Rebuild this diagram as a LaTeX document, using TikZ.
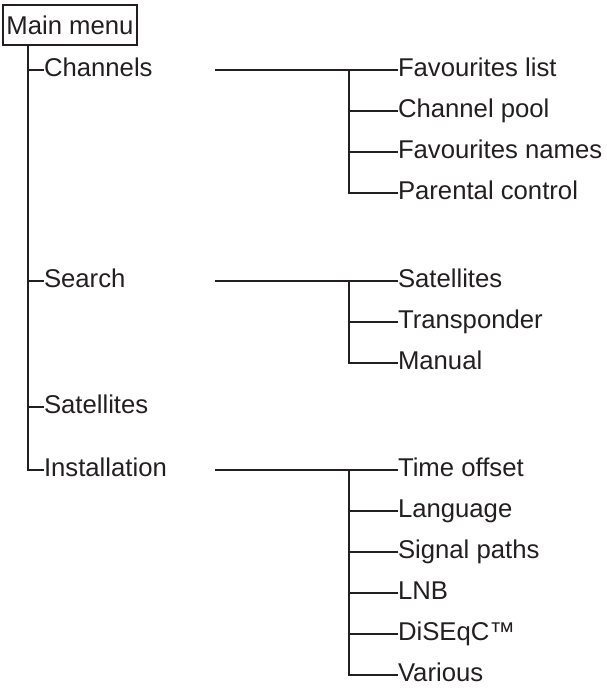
\documentclass[tikz,border=0pt]{standalone}
\usepackage{fontspec}
\setmainfont{Liberation Sans}
\usepackage{tikz}
\usetikzlibrary{positioning}
\definecolor{Ink}{HTML}{231F20}

\begin{document}
\begin{tikzpicture}[x=1pt, y=-1pt, node distance=18pt, line width=1.9pt, color=Ink,
  font=\fontsize{25.7pt}{30pt}\selectfont,
  menu/.style={draw, line width=1.5pt, minimum width=134pt, minimum height=40pt, inner sep=0pt},
  entry/.style={anchor=west, inner sep=0pt, outer sep=0pt, text height=17.5pt, text depth=5.5pt},
  leaf/.style={entry, anchor=north west}]
  \useasboundingbox (0,0) rectangle (607,688);

  \node[menu] (main) at (70,25) {Main menu};
  \node[entry] (chan) at (44,70) {Channels};
  \node[entry] (search) at (44,281) {Search};
  \node[entry] (sat) at (44,407) {Satellites};
  \node[entry] (inst) at (44,470) {Installation};

  \node[entry] (fav) at (398,70) {Favourites list};
  \node[below=of fav.south west, leaf] (pool) {Channel pool};
  \node[below=of pool.south west, leaf] (names) {Favourites names};
  \node[below=of names.south west, leaf] (parent) {Parental control};

  \node[entry] (satlist) at (398,281) {Satellites};
  \node[below=of satlist.south west, leaf] (trans) {Transponder};
  \node[below=of trans.south west, leaf] (manual) {Manual};

  \node[entry] (time) at (398,470) {Time offset};
  \node[below=of time.south west, leaf] (lang) {Language};
  \node[below=of lang.south west, leaf] (signal) {Signal paths};
  \node[below=of signal.south west, leaf] (lnb) {LNB};
  \node[below=of lnb.south west, leaf] (diseqc) {DiSEqC™};
  \node[below=of diseqc.south west, leaf] (various) {Various};

  \coordinate (trunk) at ([xshift=26pt]main.south west);
  \draw (trunk) |- (inst.west);
  \draw (trunk |- chan.west) -- (chan.west);
  \draw (trunk |- search.west) -- (search.west);
  \draw (trunk |- sat.west) -- (sat.west);

  \coordinate (chan-bar) at (215,70);
  \coordinate (chan-fork) at (349,70);
  \draw (chan-bar) -- (fav.west);
  \draw (chan-fork) |- (parent.west);
  \draw (chan-fork |- pool.west) -- (pool.west);
  \draw (chan-fork |- names.west) -- (names.west);

  \coordinate (search-bar) at (215,281);
  \coordinate (search-fork) at (349,281);
  \draw (search-bar) -- (satlist.west);
  \draw (search-fork) |- (manual.west);
  \draw (search-fork |- trans.west) -- (trans.west);

  \coordinate (inst-bar) at (215,470);
  \coordinate (inst-fork) at (349,470);
  \draw (inst-bar) -- (time.west);
  \draw (inst-fork) |- (various.west);
  \draw (inst-fork |- lang.west) -- (lang.west);
  \draw (inst-fork |- signal.west) -- (signal.west);
  \draw (inst-fork |- lnb.west) -- (lnb.west);
  \draw (inst-fork |- diseqc.west) -- (diseqc.west);
\end{tikzpicture}
\end{document}
